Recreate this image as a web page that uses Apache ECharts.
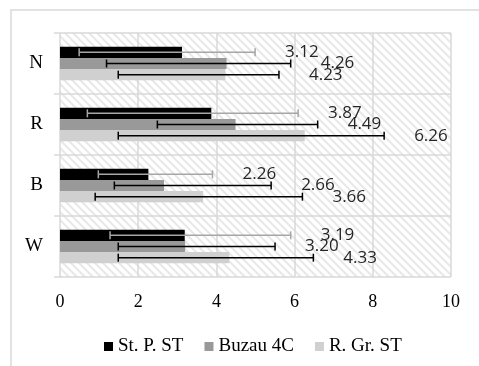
<!DOCTYPE html>
<html>
<head>
<meta charset="utf-8">
<script src="https://cdn.jsdelivr.net/npm/echarts@6/dist/echarts.min.js"></script>
<style>
  html, body { margin: 0; padding: 0; background: #fff; }
  #chart { width: 479px; height: 366px; }
</style>
</head>
<body>
<div id="chart"></div>
<script>
// categories (top to bottom) and series
const categories = ['N', 'R', 'B', 'W'];
const seriesNames = ['St. P. ST', 'Buzau 4C', 'R. Gr. ST'];

const stP = [3.12, 3.87, 2.26, 3.19];
const buzau = [4.26, 4.49, 2.66, 3.20];
const rGr = [4.23, 6.26, 3.66, 4.33];

// error bar ends
const stPLow = [0.49, 0.70, 0.98, 1.28];
const stPHigh = [4.99, 6.09, 3.90, 5.90];
const buzauLow = [1.19, 2.49, 1.39, 1.49];
const buzauHigh = [5.90, 6.59, 5.40, 5.50];
const rGrLow = [1.49, 1.49, 0.90, 1.49];
const rGrHigh = [5.60, 8.29, 6.20, 6.48];

const xTicks = [0, 2, 4, 6, 8, 10];

const barColors = ['#000000', '#999999', '#d0d0d0'];
const errColors = ['#a6a6a6', '#000000', '#000000'];
const catGap = 0.45;

// hatch pattern for plot background
const tile = document.createElement('canvas');
tile.width = 8; tile.height = 8;
const tctx = tile.getContext('2d');
tctx.fillStyle = '#ffffff';
tctx.fillRect(0, 0, 8, 8);
tctx.strokeStyle = '#e8e8e8';
tctx.lineWidth = 2;
tctx.beginPath();
tctx.moveTo(-1, -1); tctx.lineTo(9, 9);
tctx.moveTo(-1, 7); tctx.lineTo(1, 9);
tctx.moveTo(7, -1); tctx.lineTo(9, 1);
tctx.stroke();

const values = [stP, buzau, rGr];
const lows = [stPLow, buzauLow, rGrLow];
const highs = [stPHigh, buzauHigh, rGrHigh];

const myChart = echarts.init(document.getElementById('chart'));

function errSeries (k) {
  return {
    type: 'custom',
    z: 5,
    silent: true,
    encode: { x: [1, 2], y: 0 },
    data: categories.map((c, i) => [i, lows[k][i], highs[k][i], values[k][i]]),
    renderItem: function (params, api) {
      const cat = api.value(0);
      const lo = api.coord([api.value(1), cat]);
      const hi = api.coord([api.value(2), cat]);
      const band = api.size([0, 1])[1];
      const bw = band * (1 - catGap) / 3;
      const y = lo[1] + (k - 1) * bw;
      const st = { stroke: errColors[k], lineWidth: 1.5 };
      return {
        type: 'group',
        children: [
          { type: 'line', shape: { x1: lo[0], y1: y, x2: hi[0], y2: y }, style: st },
          { type: 'line', shape: { x1: lo[0], y1: y - 4, x2: lo[0], y2: y + 4 }, style: st },
          { type: 'line', shape: { x1: hi[0], y1: y - 4, x2: hi[0], y2: y + 4 }, style: st },
          {
            type: 'text',
            style: {
              text: api.value(3).toFixed(2),
              x: hi[0] + 30,
              y: y,
              verticalAlign: 'middle',
              align: 'left',
              fill: '#262626',
              font: '17px "Open Sans"'
            }
          }
        ]
      };
    }
  };
}

const option = {
  animation: false,
  graphic: [{
    type: 'rect',
    shape: { x: 11, y: 10, width: 600, height: 600 },
    style: { fill: 'none', stroke: '#d9d9d9', lineWidth: 1.5 },
    silent: true
  }],
  grid: {
    left: 60, right: 28, top: 33, bottom: 89,
    show: true,
    borderWidth: 0,
    backgroundColor: { image: tile, repeat: 'repeat' }
  },
  legend: {
    data: seriesNames,
    left: 99,
    top: 332,
    itemWidth: 9,
    itemHeight: 9,
    itemGap: 21,
    icon: 'rect',
    textStyle: { fontFamily: 'Liberation Serif', fontSize: 19, color: '#000' }
  },
  xAxis: {
    type: 'value',
    min: 0, max: 10, interval: 2,
    axisLine: { show: false },
    axisTick: { show: false },
    axisLabel: {
      margin: 16,
      fontFamily: 'Liberation Serif', fontSize: 18, color: '#000',
      formatter: v => xTicks.includes(v) ? String(v) : ''
    },
    splitLine: { lineStyle: { color: '#d9d9d9', width: 1.5 } }
  },
  yAxis: {
    type: 'category',
    inverse: true,
    data: categories,
    axisLine: { show: false },
    axisTick: { show: true, length: 6, lineStyle: { color: '#d9d9d9', width: 1.5 } },
    axisLabel: { margin: 17, fontFamily: 'Liberation Serif', fontSize: 19, color: '#000' },
    splitLine: { show: true, lineStyle: { color: '#d9d9d9', width: 1.5 } }
  },
  series: [
    ...seriesNames.map((name, k) => ({
      name: name,
      type: 'bar',
      data: values[k],
      barGap: 0,
      barCategoryGap: (catGap * 100) + '%',
      itemStyle: { color: barColors[k] }
    })),
    errSeries(0), errSeries(1), errSeries(2)
  ]
};

myChart.setOption(option);
</script>
</body>
</html>
